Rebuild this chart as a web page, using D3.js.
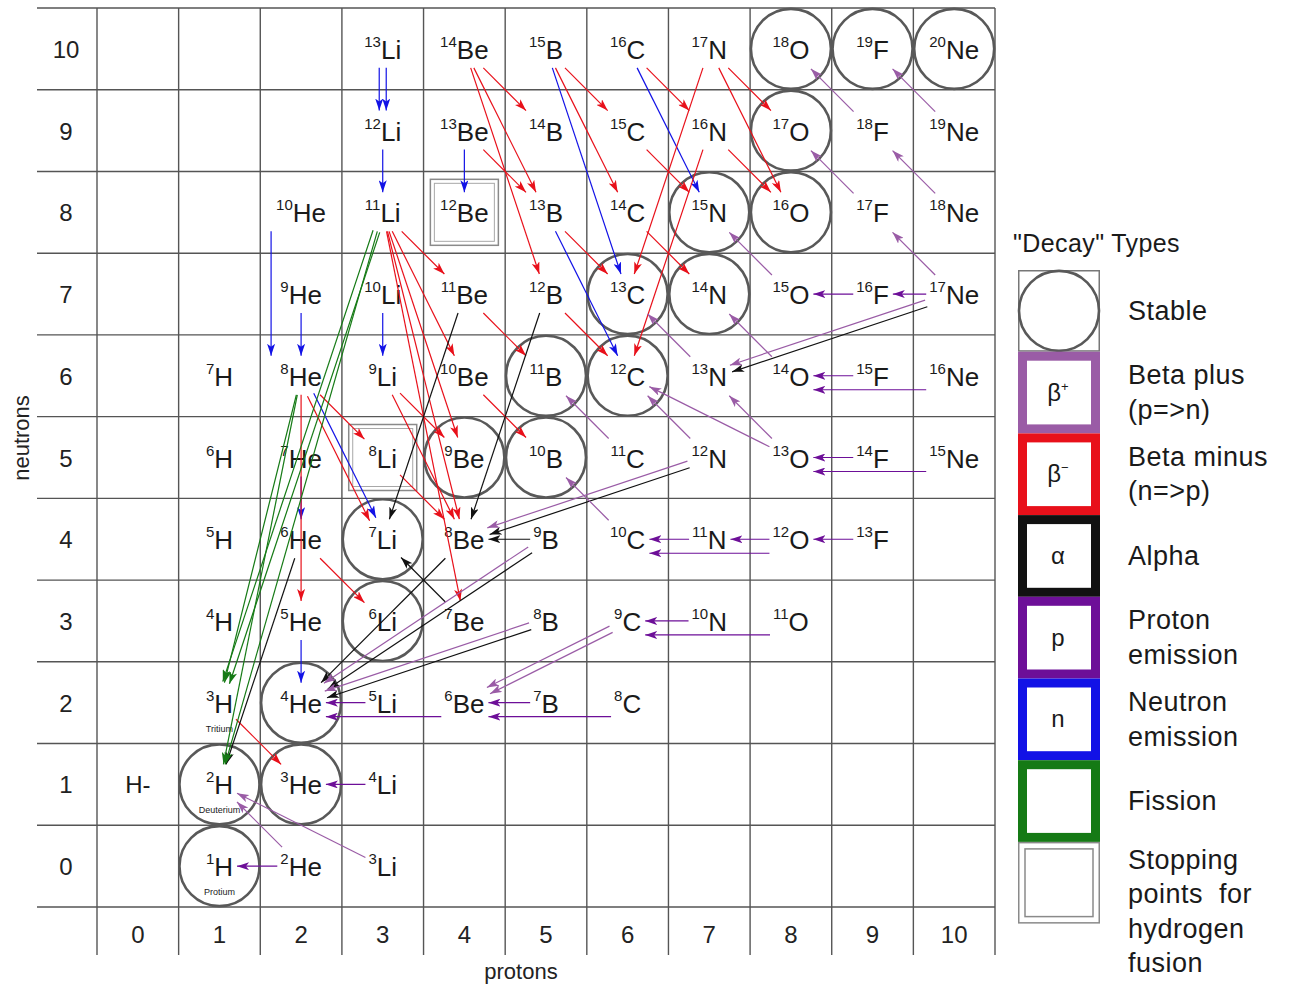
<!DOCTYPE html>
<html>
<head>
<meta charset="utf-8">
<script src="https://cdn.jsdelivr.net/npm/d3@7"></script>
<style>
body { margin: 0; background: #fff; }
svg { font-family: "Liberation Sans", Arial, sans-serif; }
</style>
</head>
<body>
<svg width="1291" height="988"></svg>
<script>
var svg = d3.select("svg");

// element symbols by proton number
var elements = ["n", "H", "He", "Li", "Be", "B", "C", "N", "O", "F", "Ne"];
var protonTicks = [0, 1, 2, 3, 4, 5, 6, 7, 8, 9, 10];
var neutronTicks = [10, 9, 8, 7, 6, 5, 4, 3, 2, 1, 0];

// nuclides on the chart: [protons, neutrons]
var nuclides = [
  [3,10],[4,10],[5,10],[6,10],[7,10],[8,10],[9,10],[10,10],
  [3,9],[4,9],[5,9],[6,9],[7,9],[8,9],[9,9],[10,9],
  [2,8],[3,8],[4,8],[5,8],[6,8],[7,8],[8,8],[9,8],[10,8],
  [2,7],[3,7],[4,7],[5,7],[6,7],[7,7],[8,7],[9,7],[10,7],
  [1,6],[2,6],[3,6],[4,6],[5,6],[6,6],[7,6],[8,6],[9,6],[10,6],
  [1,5],[2,5],[3,5],[4,5],[5,5],[6,5],[7,5],[8,5],[9,5],[10,5],
  [1,4],[2,4],[3,4],[4,4],[5,4],[6,4],[7,4],[8,4],[9,4],
  [1,3],[2,3],[3,3],[4,3],[5,3],[6,3],[7,3],[8,3],
  [1,2],[2,2],[3,2],[4,2],[5,2],[6,2],
  [1,1],[2,1],[3,1],
  [1,0],[2,0],[3,0]
];
var hydrogenIon = [0, 1, "H-"];

var stable = [
  [1,0],[1,1],[2,1],[2,2],[3,3],[3,4],[4,5],[5,5],[5,6],
  [6,6],[6,7],[7,7],[7,8],[8,8],[8,9],[8,10],[9,10],[10,10]
];
var stoppingPoints = [[4,8],[3,5]];
var nicknames = [[1,2,"Tritium"],[1,1,"Deuterium"],[1,0,"Protium"]];

// decays: [from Z, from N, to Z, to N, mode]
var decays = [
  // neutron emission
  [3,10,3,9,"n"],[3,10,3,9,"n"],[3,9,3,8,"n"],[4,9,4,8,"n"],
  [2,8,2,6,"2n"],[2,7,2,6,"n"],[3,7,3,6,"n"],[2,5,2,4,"n"],[2,3,2,2,"n"],
  [2,6,3,4,"n"],[5,10,6,7,"n"],[5,8,6,6,"n"],[6,10,7,8,"n"],
  // beta minus
  [1,2,2,1,"b-"],[2,4,3,3,"b-"],[2,6,3,5,"b-"],[2,6,3,4,"b-"],[2,6,2,3,"b-"],
  [3,8,4,7,"b-"],[3,8,4,6,"b-"],[3,8,4,5,"b-"],[3,8,4,4,"b-"],[3,8,4,3,"b-"],
  [3,6,4,5,"b-"],[3,6,4,4,"b-"],[3,5,4,4,"b-"],
  [4,10,5,9,"b-"],[4,10,5,8,"b-"],[4,10,5,7,"b-"],[4,9,5,8,"b-"],
  [4,7,5,6,"b-"],[4,6,5,5,"b-"],
  [5,10,6,9,"b-"],[5,10,6,8,"b-"],[5,8,6,7,"b-"],[5,7,6,6,"b-"],
  [6,10,7,9,"b-"],[6,9,7,8,"b-"],[6,8,7,7,"b-"],
  [7,10,8,9,"b-"],[7,10,8,8,"b-"],[7,9,8,8,"b-"],[7,10,6,7,"b-"],[7,9,6,6,"b-"],
  // alpha
  [4,4,2,2,"a"],[4,7,3,4,"a"],[5,7,4,4,"a"],[7,5,4,4,"a"],[10,7,7,6,"a"],
  [5,3,2,2,"a"],[5,4,2,2,"a"],[5,4,4,4,"a"],[4,3,3,4,"a"],[2,4,1,1,"a"],
  // beta plus
  [2,0,1,1,"b+"],[3,0,1,1,"b+"],[5,3,2,2,"b+"],[5,4,2,2,"b+"],
  [6,3,4,2,"b+"],[6,3,4,2,"b+"],[6,5,5,6,"b+"],[6,4,5,5,"b+"],
  [7,6,6,7,"b+"],[7,5,6,6,"b+"],[7,5,4,4,"b+"],
  [8,7,7,8,"b+"],[8,6,7,7,"b+"],[8,5,7,6,"b+"],[8,5,6,6,"b+"],
  [9,8,8,9,"b+"],[9,9,8,10,"b+"],[10,9,9,10,"b+"],[10,8,9,9,"b+"],
  [10,7,9,8,"b+"],[10,7,7,6,"b+"],
  // proton emission
  [2,0,1,0,"p"],[3,1,2,1,"p"],[3,2,2,2,"p"],[4,2,2,2,"2p"],
  [5,2,4,2,"p"],[6,2,4,2,"2p"],[7,3,6,3,"p"],[8,3,6,3,"2p"],
  [7,4,6,4,"p"],[8,4,7,4,"p"],[8,4,6,4,"2p"],[9,4,8,4,"p"],
  [9,5,8,5,"p"],[10,5,8,5,"2p"],[9,6,8,6,"p"],[10,6,8,6,"2p"],
  [9,7,8,7,"p"],[10,7,9,7,"p"],
  // fission
  [3,8,1,2,"f"],[3,8,1,2,"f"],[2,6,1,2,"f"],[3,8,1,1,"f"],[2,6,1,1,"f"]
];

// legend entries
var legendTypes = ["stable", "bplus", "bminus", "alpha", "proton", "neutron", "fission", "stop"];
var legendSymbols = ["", "β", "β", "α", "p", "n", "", ""];
var legendSups = ["", "+", "−", "", "", "", "", ""];
var legendLabels = [
  ["Stable"], ["Beta plus", "(p=>n)"], ["Beta minus", "(n=>p)"], ["Alpha"],
  ["Proton", "emission"], ["Neutron", "emission"], ["Fission"],
  ["Stopping", "points  for", "hydrogen", "fusion"]
];

var colors = {
  stable: "#595959", bplus: "#9a5ca6", bminus: "#e8101a", alpha: "#111111",
  proton: "#6d0f98", neutron: "#1212e6", fission: "#157a15", stop: "#8a8a8a"
};
var modeType = { "b+": "bplus", "b-": "bminus", "a": "alpha", "p": "proton",
  "2p": "proton", "n": "neutron", "2n": "neutron", "f": "fission" };
var modeShift = { "2p": [0, 14], "2n": [-30, 0] };

// scales: cell i spans [i, i+1]
var x = d3.scaleLinear().domain([0, 11]).range([97, 995]);
var y = d3.scaleLinear().domain([0, 11]).range([907, 8]);
function cx(z) { return x(z + 0.5); }
function cy(n) { return y(n + 0.5); }

//////////// GRID ////////////
var grid = svg.append("g").attr("stroke", "#555").attr("stroke-width", 1.4);
grid.selectAll("line.v")
  .data(d3.range(0, 12))
  .enter().append("line")
  .attr("x1", function(d) { return x(d); })
  .attr("x2", function(d) { return x(d); })
  .attr("y1", y(11)).attr("y2", 955);
grid.selectAll("line.h")
  .data(d3.range(0, 12))
  .enter().append("line")
  .attr("x1", 37).attr("x2", x(11))
  .attr("y1", function(d) { return y(d); })
  .attr("y2", function(d) { return y(d); });

// tick labels
svg.append("g").selectAll("text")
  .data(neutronTicks)
  .enter().append("text")
  .attr("x", 66).attr("y", function(d) { return cy(d) + 9; })
  .attr("text-anchor", "middle").attr("font-size", 24).attr("fill", "#222")
  .text(function(d) { return d; });
svg.append("g").selectAll("text")
  .data(protonTicks)
  .enter().append("text")
  .attr("x", function(d) { return cx(d); }).attr("y", 943)
  .attr("text-anchor", "middle").attr("font-size", 24).attr("fill", "#222")
  .text(function(d) { return d; });

svg.append("text")
  .attr("transform", "translate(29,438) rotate(-90)")
  .attr("text-anchor", "middle").attr("font-size", 22).attr("fill", "#222")
  .text("neutrons");
svg.append("text")
  .attr("x", 521).attr("y", 979)
  .attr("text-anchor", "middle").attr("font-size", 22).attr("fill", "#222")
  .text("protons");

//////////// STABLE + STOPPING ////////////
svg.append("g").selectAll("circle")
  .data(stable)
  .enter().append("circle")
  .attr("cx", function(d) { return cx(d[0]); })
  .attr("cy", function(d) { return cy(d[1]); })
  .attr("r", 40)
  .attr("fill", "none").attr("stroke", colors.stable).attr("stroke-width", 2.6);

var stops = svg.append("g").selectAll("g")
  .data(stoppingPoints)
  .enter().append("g");
stops.append("rect")
  .attr("x", function(d) { return cx(d[0]) - 34; })
  .attr("y", function(d) { return cy(d[1]) - 33; })
  .attr("width", 68).attr("height", 66)
  .attr("fill", "none").attr("stroke", colors.stop).attr("stroke-width", 1.5);
stops.append("rect")
  .attr("x", function(d) { return cx(d[0]) - 30; })
  .attr("y", function(d) { return cy(d[1]) - 29; })
  .attr("width", 60).attr("height", 58)
  .attr("fill", "none").attr("stroke", "#a8a8a8").attr("stroke-width", 1);

//////////// NUCLIDE LABELS ////////////
var boxes = {};
var labels = svg.append("g").attr("fill", "#1a1a1a").selectAll("text")
  .data(nuclides)
  .enter().append("text")
  .attr("x", function(d) { return cx(d[0]); })
  .attr("y", function(d) { return cy(d[1]) + 10; })
  .attr("text-anchor", "middle");
labels.append("tspan")
  .attr("font-size", 15).attr("dy", -12)
  .text(function(d) { return d[0] + d[1]; });
labels.append("tspan")
  .attr("font-size", 26).attr("dy", 12)
  .text(function(d) { return elements[d[0]]; });
labels.each(function(d) { boxes[d[0] + "," + d[1]] = this.getBBox(); });

svg.append("text")
  .attr("x", cx(hydrogenIon[0])).attr("y", cy(hydrogenIon[1]) + 9)
  .attr("text-anchor", "middle").attr("font-size", 24).attr("fill", "#1a1a1a")
  .text(hydrogenIon[2]);

svg.append("g").selectAll("text")
  .data(nicknames)
  .enter().append("text")
  .attr("x", function(d) { return cx(d[0]); })
  .attr("y", function(d) { return cy(d[1]) + 29; })
  .attr("text-anchor", "middle").attr("font-size", 9).attr("fill", "#222")
  .text(function(d) { return d[2]; });

//////////// DECAY ARROWS ////////////
var defs = svg.append("defs");
Object.keys(colors).forEach(function(k) {
  defs.append("marker")
    .attr("id", "arrow-" + k)
    .attr("viewBox", "0 0 12 8")
    .attr("refX", 12).attr("refY", 4)
    .attr("markerWidth", 12).attr("markerHeight", 8)
    .attr("markerUnits", "userSpaceOnUse")
    .attr("orient", "auto")
    .append("path")
    .attr("d", "M0,0 L12,4 L0,8 L3,4 z")
    .attr("fill", colors[k]);
});

// distance from a centre along (ux,uy) until leaving a label box
function exitDistance(box, px, py, ux, uy, m) {
  var tx = Infinity, ty = Infinity;
  if (ux > 1e-6) tx = (box.x + box.width + m - px) / ux;
  if (ux < -1e-6) tx = (box.x - m - px) / ux;
  if (uy > 1e-6) ty = (box.y + box.height + m - py) / uy;
  if (uy < -1e-6) ty = (box.y - m - py) / uy;
  return Math.min(tx, ty);
}

// arrows sharing the same two nuclides are drawn side by side
function pairKey(d) { return d.slice(0, 4).join(","); }
var pairCount = {}, pairSeen = {};
decays.forEach(function(d) {
  var k = pairKey(d);
  pairCount[k] = (pairCount[k] || 0) + 1;
});
var arrows = decays.map(function(d) {
  var k = pairKey(d);
  var lane = pairSeen[k] || 0;
  pairSeen[k] = lane + 1;
  var sx = cx(d[0]), sy = cy(d[1]), tx = cx(d[2]), ty = cy(d[3]);
  var len = Math.hypot(tx - sx, ty - sy), ux = (tx - sx) / len, uy = (ty - sy) / len;
  var a = exitDistance(boxes[d[0] + "," + d[1]], sx, sy, ux, uy, 3);
  var b = exitDistance(boxes[d[2] + "," + d[3]], tx, ty, -ux, -uy, 4);
  var shift = modeShift[d[4]] || [0, 0];
  var side = (lane - (pairCount[k] - 1) / 2) * 7;
  var ox = shift[0] - uy * side, oy = shift[1] + ux * side;
  return { type: modeType[d[4]],
    x1: sx + ux * a + ox, y1: sy + uy * a + oy,
    x2: tx - ux * b + ox, y2: ty - uy * b + oy };
});

svg.append("g").selectAll("line")
  .data(arrows)
  .enter().append("line")
  .attr("x1", function(d) { return d.x1; })
  .attr("y1", function(d) { return d.y1; })
  .attr("x2", function(d) { return d.x2; })
  .attr("y2", function(d) { return d.y2; })
  .attr("stroke", function(d) { return colors[d.type]; })
  .attr("stroke-width", 1.2)
  .attr("marker-end", function(d) { return "url(#arrow-" + d.type + ")"; });

//////////// LEGEND ////////////
var legendX = 1018, legendTop = 270, legendStep = 81.7, boxW = 82;
svg.append("text")
  .attr("x", 1013).attr("y", 252)
  .attr("font-size", 25).attr("letter-spacing", 0.4).attr("fill", "#1a1a1a")
  .text("\"Decay\" Types");

var items = svg.append("g").selectAll("g")
  .data(legendTypes)
  .enter().append("g")
  .attr("transform", function(d, i) { return "translate(" + legendX + "," + (legendTop + i * legendStep) + ")"; });

items.each(function(d, i) {
  var g = d3.select(this);
  if (d === "stable") {
    g.append("rect").attr("x", 0.75).attr("y", 0.75).attr("width", boxW - 1.5).attr("height", legendStep - 1.5)
      .attr("fill", "#fff").attr("stroke", "#777").attr("stroke-width", 1.5);
    g.append("circle").attr("cx", boxW / 2).attr("cy", legendStep / 2).attr("r", 40)
      .attr("fill", "none").attr("stroke", colors.stable).attr("stroke-width", 2.6);
  } else if (d === "stop") {
    g.append("rect").attr("x", 0.75).attr("y", 0.75).attr("width", boxW - 1.5).attr("height", legendStep - 1.5)
      .attr("fill", "#fff").attr("stroke", "#8a8a8a").attr("stroke-width", 1.5);
    g.append("rect").attr("x", 7).attr("y", 7).attr("width", boxW - 14).attr("height", legendStep - 14)
      .attr("fill", "none").attr("stroke", "#8a8a8a").attr("stroke-width", 1.5);
  } else {
    g.append("rect").attr("x", 4.5).attr("y", 4.5).attr("width", boxW - 9).attr("height", legendStep - 9)
      .attr("fill", "#fff").attr("stroke", colors[d]).attr("stroke-width", 9);
  }
  if (legendSymbols[i]) {
    var t = g.append("text").attr("x", boxW / 2 - 1).attr("y", legendStep / 2 + 8)
      .attr("text-anchor", "middle").attr("font-size", 24).attr("fill", "#1a1a1a");
    t.append("tspan").text(legendSymbols[i]);
    if (legendSups[i]) t.append("tspan").attr("font-size", 13).attr("dy", -10).text(legendSups[i]);
  }
  var lines = legendLabels[i];
  var lh = 34.5, startY = legendStep / 2 + 9 - (lines.length - 1) * lh / 2;
  if (d === "stop") startY = 27;
  g.append("g").selectAll("text")
    .data(lines)
    .enter().append("text")
    .attr("x", 110).attr("y", function(s, j) { return startY + j * lh; })
    .attr("font-size", 27).attr("letter-spacing", 0.5).attr("fill", "#1a1a1a")
    .attr("xml:space", "preserve")
    .text(function(s) { return s; });
});
</script>
</body>
</html>
